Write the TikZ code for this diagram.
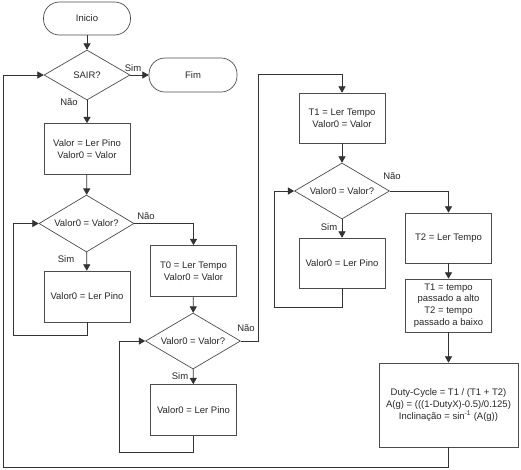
\documentclass[tikz,border=0pt]{standalone}
\usepackage{fontspec}
\setmainfont{Liberation Sans}
\usetikzlibrary{arrows}
\usetikzlibrary{shapes.geometric}
\tikzset{%
  myedge/.style={->, >=triangle 60, draw=black!80, line width=0.7pt},
  mybox/.style={rectangle, draw=black!70, line width=0.7pt, minimum width=86pt, minimum height=51pt, align=center, inner sep=1pt},
  myterm/.style={rectangle, rounded corners=16pt, draw=black!70, line width=0.7pt, minimum width=87pt, minimum height=33pt},
  mydec/.style={diamond, draw=black!70, line width=0.7pt, shape aspect=1.7, inner sep=0pt, minimum width=95pt, minimum height=57pt},
  mylabel/.style={inner sep=0pt}
}

\begin{document}
\begin{tikzpicture}[x=1pt, y=-1pt, every node/.style={font=\fontsize{9.5}{11.7}\selectfont, text=black!85}]
\useasboundingbox (0,0) rectangle (521,469);

% coluna da esquerda
\node [myterm] (inicio) at (87,18.5) {Inicio};
\node [mydec, minimum width=86pt, minimum height=50pt] (sair) at (87,75) {SAIR?};
\node [myterm, minimum width=88pt, minimum height=34pt] (fim) at (193,75) {Fim};
\node [mybox] (valor) at (87,149) {Valor = Ler Pino\\Valor0 = Valor};
\node [mydec] (igual1) at (86.5,223.5) {Valor0 = Valor?};
\node [mybox] (pino1) at (87,296.5) {Valor0 = Ler Pino};

% coluna do meio
\node [mybox] (tzero) at (193.5,271) {T0 = Ler Tempo\\Valor0 = Valor};
\node [mydec, minimum height=56pt] (igual2) at (193,341) {Valor0 = Valor?};
\node [mybox] (pino2) at (193.5,410) {Valor0 = Ler Pino};

% coluna da direita
\node [mybox, minimum height=50pt] (tum) at (342,118) {T1 = Ler Tempo\\Valor0 = Valor};
\node [mydec, minimum height=56pt] (igual3) at (342,191) {Valor0 = Valor?};
\node [mybox, minimum height=50pt] (pino3) at (342,263) {Valor0 = Ler Pino};
\node [mybox, minimum height=50pt] (tdois) at (448.5,238) {T2 = Ler Tempo};
\node [mybox, minimum height=53pt] (tempos) at (448.5,305.5) {T1 = tempo\\passado a alto\\T2 = tempo\\passado a baixo};
\node [mybox, minimum width=139pt, minimum height=84pt] (duty) at (448.5,405) {Duty-Cycle = T1 / (T1 + T2)\\A(g) = (((1-DutyX)-0.5)/0.125)\\Inclinação = sin\textsuperscript{-1} (A(g))};

% cantos dos lacos
\coordinate (c1) at (13,335);
\coordinate (c2) at (119,452);
\coordinate (c3) at (258,74);
\coordinate (c4) at (274,307);
\coordinate (c5) at (3,467);

% setas
\draw [myedge] (inicio) -- (sair);
\draw [myedge] (sair) -- (fim);
\draw [myedge] (sair) -- (valor);
\draw [myedge] (valor) -- (igual1);
\draw [myedge] (igual1) -- (pino1);
\draw [myedge] (pino1.south) |- (c1) |- (igual1.west);
\draw [myedge] (igual1.east) -| (tzero.north);
\draw [myedge] (tzero) -- (igual2);
\draw [myedge] (igual2) -- (pino2);
\draw [myedge] (pino2.south) |- (c2) |- (igual2.west);
\draw [myedge] (igual2.east) -| (c3) -| (tum.north);
\draw [myedge] (tum) -- (igual3);
\draw [myedge] (igual3) -- (pino3);
\draw [myedge] (pino3.south) |- (c4) |- (igual3.west);
\draw [myedge] (igual3.east) -| (tdois.north);
\draw [myedge] (tdois) -- (tempos);
\draw [myedge] (tempos) -- (duty);
\draw [myedge] (duty.south) |- (c5) |- (sair.west);

% rotulos
\node [mylabel] (simA) at (133,68) {Sim};
\node [mylabel] (naoA) at (69,102) {Não};
\node [mylabel] (naoB) at (146,216) {Não};
\node [mylabel] (simB) at (66,259) {Sim};
\node [mylabel] (naoC) at (246,328) {Não};
\node [mylabel] (simC) at (180,376) {Sim};
\node [mylabel] (naoD) at (392,176) {Não};
\node [mylabel] (simD) at (329,227) {Sim};
\end{tikzpicture}
\end{document}
